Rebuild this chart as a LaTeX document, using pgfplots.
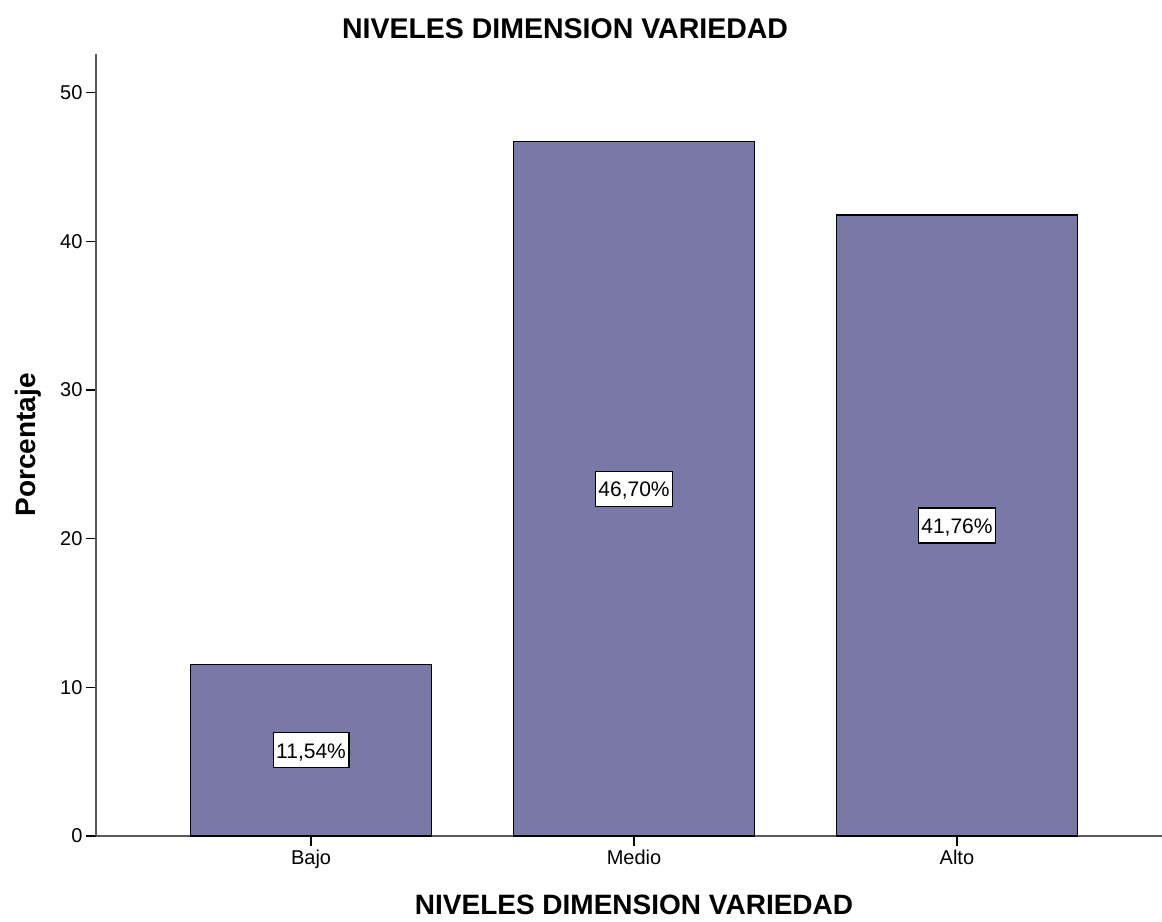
\documentclass[border=0pt]{standalone}
\usepackage{pgfplots}
\usepackage{pgfplotstable}
\pgfplotsset{compat=1.18}
\usepackage{fontspec}
\setmainfont{Liberation Sans}

\definecolor{barfill}{RGB}{121,121,167}

% porcentajes por nivel
\pgfplotstableread{
x v
0 11.54
1 46.70
2 41.76
}\niveles

\begin{document}
\begin{tikzpicture}
\useasboundingbox (-96bp,-86bp) rectangle (1066bp,836bp);
\begin{axis}[
    scale only axis,
    width=1066bp, height=782bp,
    at={(0,0)}, anchor=south west,
    xmin=-0.666, xmax=2.635,
    ymin=0, ymax=52.6,
    axis x line=bottom, axis y line=left,
    axis line style={-, black!65, line width=1.4bp},
    xtick=data,
    xticklabels={Bajo, Medio, Alto},
    ytick={0,10,20,30,40,50},
    tick align=outside,
    major tick length=10bp,
    tick style={black, line width=1.2bp},
    ticklabel style={font=\fontsize{20bp}{24bp}\selectfont},
    /pgf/number format/assume math mode=true,
    title={\textbf{NIVELES DIMENSION VARIEDAD}},
    title style={at={(axis description cs:0.44,1.0243)}, anchor=center,
        font=\fontsize{28.5bp}{34bp}\selectfont},
    xlabel={\textbf{NIVELES DIMENSION VARIEDAD}},
    xlabel style={at={(axis description cs:0.5047,-0.0885)}, anchor=center,
        font=\fontsize{28bp}{34bp}\selectfont},
    ylabel={\textbf{Porcentaje}},
    ylabel style={at={(axis description cs:-0.0565,0.5)}, anchor=base,
        font=\fontsize{28bp}{34bp}\selectfont},
]
\addplot[ybar, bar width=241bp, fill=barfill, draw=black, line width=1.4bp]
    table[x=x, y=v] {\niveles};
% etiquetas a media altura
\addplot[draw=none, mark=none, point meta=explicit,
    nodes near coords={\pgfmathprintnumber[fixed, fixed zerofill, precision=2, use comma]{\pgfplotspointmeta}\%},
    nodes near coords style={anchor=center, fill=white, draw=black, line width=1.2bp,
        font=\fontsize{21bp}{25bp}\selectfont,
        inner xsep=3bp, inner ysep=7.5bp, text height=18bp, text depth=2bp}]
    table[x=x, y expr=\thisrow{v}/2, meta=v] {\niveles};
\end{axis}
\end{tikzpicture}
\end{document}
